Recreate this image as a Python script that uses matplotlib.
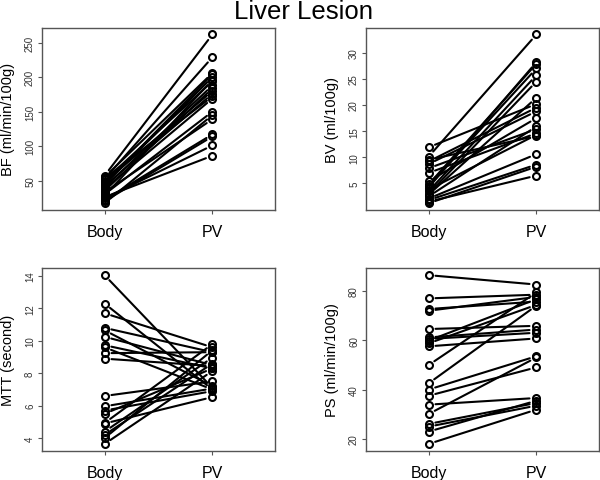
import matplotlib
matplotlib.use('Agg')
import matplotlib.pyplot as plt

plt.rcParams['font.family'] = ['Liberation Sans', 'DejaVu Sans']

groups = ['Body', 'PV']

# values per patient, Body -> PV
bf_body = [57, 52, 55, 45, 50, 40, 35, 48, 42, 38, 30, 33, 53, 28, 22, 20, 24, 26, 17, 44]
bf_pv = [262, 229, 206, 204, 194, 188, 184, 180, 176, 169, 150, 139, 172, 196, 117, 114, 101, 86, 145, 200]

bv_body = [11.9, 10.1, 9.5, 8.7, 7.9, 7.0, 5.4, 4.8, 4.2, 3.5, 3.0, 2.85, 2.5, 2.1, 1.8, 1.2, 1.5, 4.5, 3.8, 9.2]
bv_pv = [20.2, 33.5, 14.1, 18.8, 15.4, 14.6, 17.5, 27.9, 28.2, 25.7, 24.5, 21.4, 15.9, 10.6, 8.6, 8.2, 6.5, 27.0, 14.3, 19.5]

mtt_body = [14.05, 12.3, 11.7, 10.8, 10.65, 10.25, 9.73, 9.6, 9.24, 8.9, 6.6, 5.96, 5.7, 4.93, 4.9, 4.2, 4.0, 3.64, 4.4, 5.5]
mtt_pv = [7.1, 7.0, 9.6, 9.3, 7.2, 8.5, 8.3, 7.0, 9.3, 8.45, 7.5, 7.06, 6.9, 9.8, 6.53, 8.6, 9.42, 8.14, 8.97, 8.3]

ps_body = [86.3, 76.9, 72.6, 71.9, 64.5, 61.1, 59.8, 58.7, 57.5, 49.9, 42.5, 40.0, 37.5, 33.9, 30.1, 26.1, 23.0, 18.0, 60.5, 25.0]
ps_pv = [82.5, 78.4, 75.6, 77.5, 65.8, 64.3, 76.6, 74.3, 60.7, 79.3, 74.0, 53.5, 49.0, 36.6, 53.0, 34.6, 35.5, 31.9, 63.0, 33.5]

panels = [
    (bf_body, bf_pv, 'BF (ml/min/100g)', [50, 100, 150, 200, 250]),
    (bv_body, bv_pv, 'BV (ml/100g)', [5, 10, 15, 20, 25, 30]),
    (mtt_body, mtt_pv, 'MTT (second)', [4, 6, 8, 10, 12, 14]),
    (ps_body, ps_pv, 'PS (ml/min/100g)', [20, 40, 60, 80]),
]

fig = plt.figure(figsize=(6, 4.81), dpi=100)
rects = [
    [0.07, 0.5613, 0.3883, 0.379],
    [0.61, 0.5613, 0.3883, 0.379],
    [0.07, 0.0609, 0.3883, 0.379],
    [0.61, 0.0609, 0.3883, 0.379],
]
grey = '#555555'

for rect, (body, pv, label, yt) in zip(rects, panels):
    ax = fig.add_axes(rect)
    for b, p in zip(body, pv):
        # gapped segments like R's type="b"
        ax.annotate('', xy=(2, p), xytext=(1, b),
                    arrowprops=dict(arrowstyle='-', lw=1.5, color='black',
                                    shrinkA=5, shrinkB=5))
    ax.plot([1] * len(body), body, 'o', mfc='none', mec='black', ms=5, mew=1.5)
    ax.plot([2] * len(pv), pv, 'o', mfc='none', mec='black', ms=5, mew=1.5)
    lo, hi = min(body + pv), max(body + pv)
    d = (hi - lo) * 0.04
    ax.set_ylim(lo - d, hi + d)
    ax.set_xlim(0.42, 2.58)
    ax.set_xticks([1, 2])
    ax.set_xticklabels(groups, fontsize=11.5)
    ax.set_yticks(yt)
    ax.set_yticklabels([str(v) for v in yt], fontsize=7, rotation=90, va='center', color='#333333')
    ax.set_ylabel(label, fontsize=10.5, labelpad=7)
    ax.tick_params(axis='x', length=3, pad=7, color=grey)
    ax.tick_params(axis='y', length=3, pad=2, color=grey)
    for s in ax.spines.values():
        s.set_color(grey)
        s.set_linewidth(1)

fig.text(0.505, 0.975, 'Liver Lesion', ha='center', va='center', fontsize=18.5)

fig.savefig('out.png', dpi=100)
